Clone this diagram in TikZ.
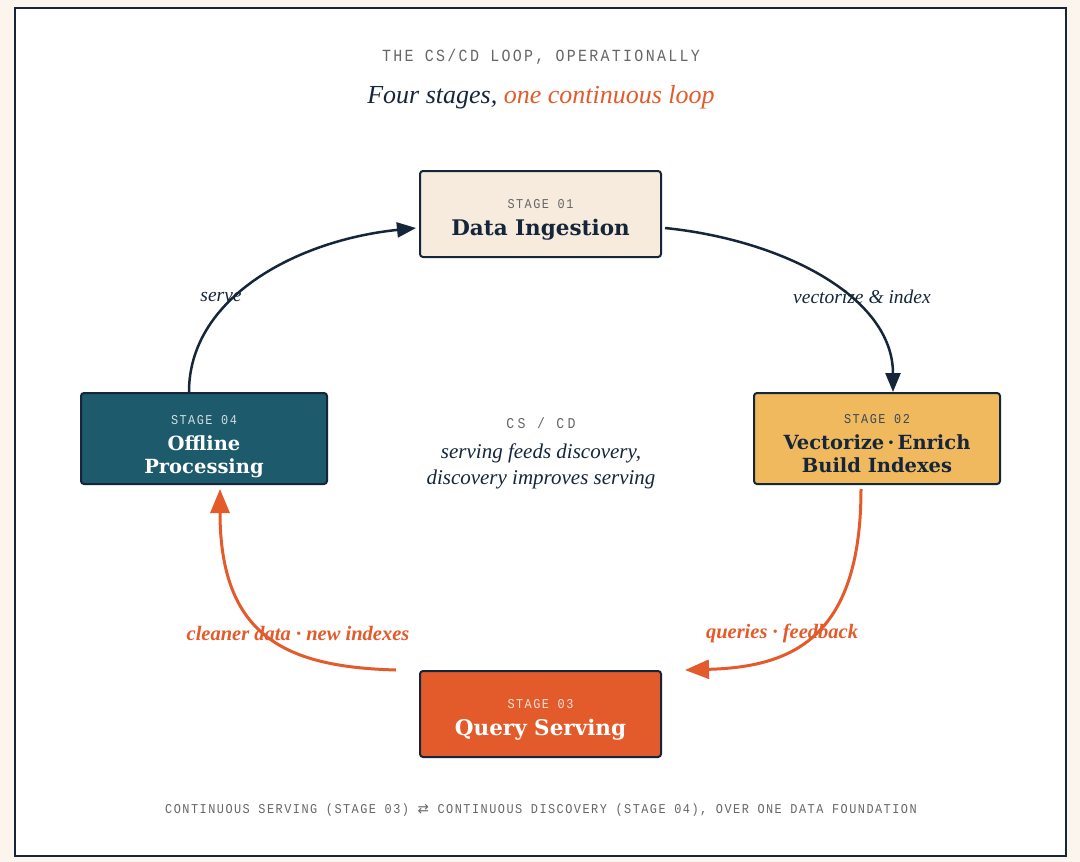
\documentclass[tikz,border=0pt]{standalone}
\usepackage{fontspec}
\usetikzlibrary{arrows.meta}
\setmainfont{Liberation Serif}
\newfontfamily\headfont{DejaVu Serif}
\newfontfamily\monowide[LetterSpace=13.5,FakeStretch=0.88]{Liberation Mono}
\newfontfamily\monocore[LetterSpace=23,FakeStretch=0.88]{Liberation Mono}
\newfontfamily\monotight[LetterSpace=11,FakeStretch=0.88]{Liberation Mono}
\newfontfamily\symfont{DejaVu Sans}

\definecolor{ink}{HTML}{15263A}
\definecolor{paper}{HTML}{FCF5EE}
\definecolor{rust}{HTML}{E45B2B}
\definecolor{amber}{HTML}{F1B95D}
\definecolor{teal}{HTML}{1D5A6B}
\definecolor{sand}{HTML}{F7EBDD}
\definecolor{slate}{HTML}{666666}

\newcommand{\stagetag}[3][20pt]{{\monotight\mdseries\fontsize{13.5}{15}\selectfont\rule{0pt}{#1}\textcolor{#2}{#3}}\\[3pt]}

\begin{document}
\begin{tikzpicture}[x=1pt,y=-1pt,
  stagebox/.style={draw=ink,line width=2pt,rounded corners=3pt,align=center,inner sep=0pt},
  bigtitle/.style={font=\headfont\bfseries\fontsize{21.5}{24}\selectfont},
  twotitle/.style={font=\headfont\bfseries\fontsize{19.5}{23}\selectfont},
  cycleline/.style={line width=2.5pt,-{Triangle[length=19pt,width=15pt]}},
  hotline/.style={line width=3pt,rust,-{Triangle[length=24pt,width=19pt]}},
  edgelabel/.style={font=\itshape\fontsize{19.5}{22}\selectfont,text=ink},
  hotlabel/.style={font=\bfseries\itshape\fontsize{20.5}{24}\selectfont,text=rust}]
	\fill[paper] (0,0) rectangle (1080,862);
	\draw[ink,line width=2pt,fill=white] (15,8) rectangle (1066,856);
	\useasboundingbox (0,0) rectangle (1080,862);
	% heading
	\node[font=\monowide\fontsize{17}{19}\selectfont,text=slate] (kicker) at (541,57) {THE CS/CD LOOP, OPERATIONALLY};
	\node[font=\itshape\fontsize{26}{30}\selectfont,text=ink] (title) at (541,97) {Four stages, \textcolor{rust}{one continuous loop}};
	% stages
	\node[stagebox,bigtitle,fill=sand,text=ink,minimum width=241pt,minimum height=86pt] (s1) at (540.5,214) {\stagetag{slate}{STAGE 01}Data Ingestion};
	\node[stagebox,twotitle,fill=amber,text=ink,minimum width=246pt,minimum height=91pt] (s2) at (877,438.5) {\stagetag{ink!85}{STAGE 02}Vectorize\,·\,Enrich\\Build Indexes};
	\node[stagebox,bigtitle,fill=rust,text=white,minimum width=241pt,minimum height=86pt] (s3) at (540.5,714) {\stagetag{white!82!rust}{STAGE 03}Query Serving};
	\node[stagebox,twotitle,fill=teal,text=white,minimum width=246pt,minimum height=91pt] (s4) at (204,438.5) {\stagetag[26pt]{white!80!teal}{STAGE 04}Offline\\Processing};
	% centre
	\node[font=\monocore\fontsize{15}{17}\selectfont,text=slate] (core) at (541,423) {CS / CD};
	\node[font=\itshape\fontsize{21}{26}\selectfont,text=ink,align=center] (corenote) at (541,466) {serving feeds discovery,\\discovery improves serving};
	% loop
	\draw[cycleline,ink] ([xshift=-15pt]s4.north) .. controls +(0,-95) and +(-118,12) .. ([xshift=-3pt,yshift=-14pt]s1.west);
	\draw[cycleline,ink] ([xshift=3pt,yshift=-14pt]s1.east) .. controls +(118,12) and +(0,-95) .. ([xshift=16pt]s2.north);
	\draw[hotline] ([xshift=-16pt,yshift=-4pt]s2.south) .. controls +(0,150) and +(106,-3) .. ([xshift=23pt]s3.north east);
	\draw[hotline] ([xshift=-23pt]s3.north west) .. controls +(-107,-3) and +(0,150) .. ([xshift=16pt,yshift=-4pt]s4.south);
	\node[edgelabel] (serve) at (221,297) {serve};
	\node[edgelabel] (vecidx) at (862,297) {vectorize \& index};
	\node[hotlabel] (feedback) at (782,633) {queries · feedback};
	\node[hotlabel] (cleaner) at (298,633) {cleaner data · new indexes};
	% footer
	\node[font=\monotight\fontsize{13.5}{15}\selectfont,text=slate] (footer) at (541,810) {CONTINUOUS SERVING (STAGE 03) {\symfont ⇄} CONTINUOUS DISCOVERY (STAGE 04), OVER ONE DATA FOUNDATION};
\end{tikzpicture}
\end{document}
